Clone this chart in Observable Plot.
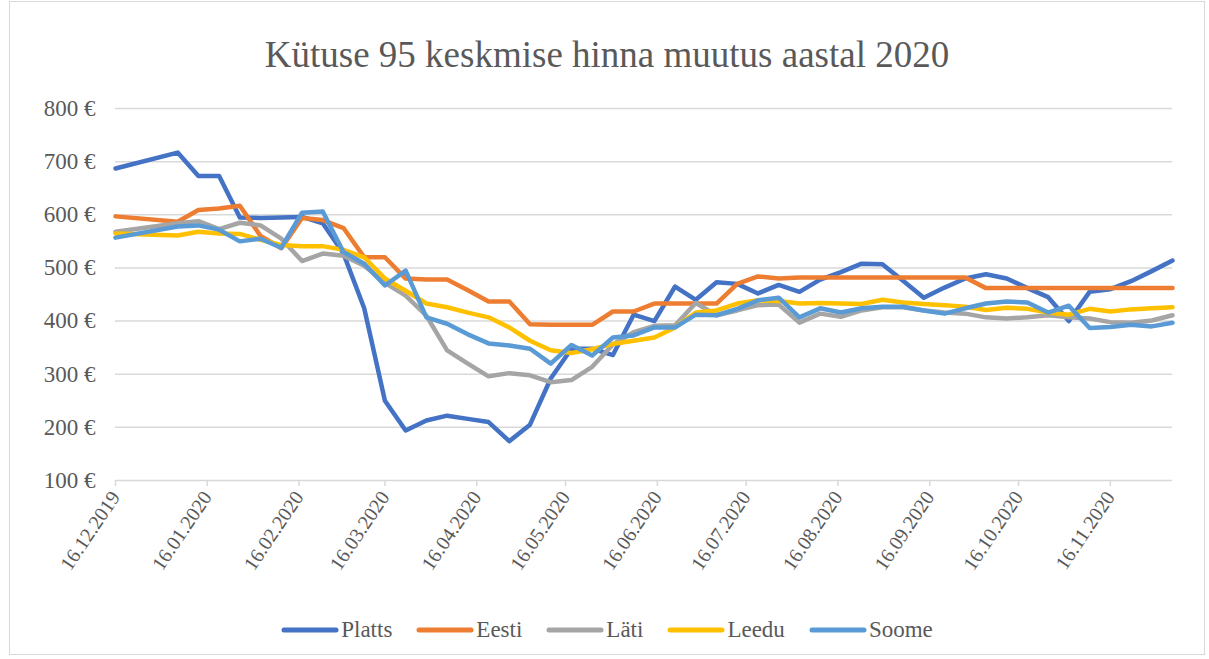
<!DOCTYPE html>
<html>
<head>
<meta charset="utf-8">
<script src="https://cdn.jsdelivr.net/npm/d3@7"></script>
<script src="https://cdn.jsdelivr.net/npm/@observablehq/plot@0.6"></script>
<style>
  body { margin: 0; background: #fff; }
  #wrap { position: relative; width: 1209px; height: 659px; overflow: hidden; font-family: "Liberation Serif", "Times New Roman", Times, "DejaVu Serif", serif; color: #595959; }
  #title { position: absolute; left: 9px; width: 1196px; top: 30px; height: 50px; line-height: 50px; text-align: center; font-size: 37px; }
  #chart { position: absolute; left: 0; top: 90px; }
  #legend { position: absolute; left: 9px; width: 1196px; top: 614px; height: 32px; display: flex; justify-content: center; align-items: center; font-size: 23px; }
  .item { display: flex; align-items: center; margin: 0 12px; }
  .item svg { margin-right: 2px; }
  #frame { position: absolute; left: 9px; top: 1px; width: 1196px; height: 654px; border: 1px solid #d9d9d9; box-sizing: border-box; pointer-events: none; }
  #chart svg text { font-family: "Liberation Serif", "Times New Roman", Times, "DejaVu Serif", serif; }
</style>
</head>
<body>
<div id="wrap">
  <div id="title">Kütuse 95 keskmise hinna muutus aastal 2020</div>
  <div id="chart"></div>
  <div id="legend"></div>
  <div id="frame"></div>
</div>
<script>
const dates = ["16.12.2019","06.01.2020","13.01.2020","20.01.2020","27.01.2020","03.02.2020","10.02.2020","17.02.2020","24.02.2020","02.03.2020","09.03.2020","16.03.2020","23.03.2020","30.03.2020","06.04.2020","13.04.2020","20.04.2020","27.04.2020","04.05.2020","11.05.2020","18.05.2020","25.05.2020","01.06.2020","08.06.2020","15.06.2020","22.06.2020","29.06.2020","06.07.2020","13.07.2020","20.07.2020","27.07.2020","03.08.2020","10.08.2020","17.08.2020","24.08.2020","31.08.2020","07.09.2020","14.09.2020","21.09.2020","28.09.2020","05.10.2020","12.10.2020","19.10.2020","26.10.2020","02.11.2020","09.11.2020","16.11.2020","23.11.2020","30.11.2020","07.12.2020"];

const platts = [687,717,673,673,595,594,595,596,584,527,424,250,194,213,222,216,210,174,205,292,348,348,336,412,400,465,440,473,470,452,468,455,478,492,508,507,476,444,463,480,488,480,462,445,400,455,460,475,494,514];
const eesti  = [597,587,609,612,617,560,537,594,590,575,520,520,480,478,478,458,437,437,394,393,393,393,418,418,433,433,433,433,470,484,480,482,482,482,482,482,482,482,482,482,462,462,462,462,462,462,462,462,462,462];
const lati   = [568,584,588,573,585,580,555,513,527,523,504,472,448,410,345,320,296,302,298,285,289,314,356,379,391,392,434,411,420,430,431,397,414,408,420,426,426,420,416,414,407,405,407,411,407,405,398,397,401,411];
const leedu  = [565,561,568,565,564,553,543,541,541,534,520,480,457,433,426,416,407,388,363,345,340,347,357,363,369,388,416,420,433,439,438,433,434,433,432,440,435,432,430,427,421,425,423,416,412,423,418,422,424,426];
const soome  = [557,578,580,572,550,555,538,604,606,530,508,467,495,407,395,375,358,354,348,320,355,335,369,373,388,388,412,411,423,439,444,407,424,416,424,427,427,420,414,424,433,437,435,416,429,387,389,393,390,397];

const seriesNames = ["Platts","Eesti","Läti","Leedu","Soome"];
const seriesColors = ["#4472C4","#ED7D31","#A5A5A5","#FFC000","#5B9BD5"];
const yTicks = [100,200,300,400,500,600,700,800];
const xTickLabels = ["16.12.2019","16.01.2020","16.02.2020","16.03.2020","16.04.2020","16.05.2020","16.06.2020","16.07.2020","16.08.2020","16.09.2020","16.10.2020","16.11.2020"];

const parse = d3.utcParse("%d.%m.%Y");
const fmt = d3.utcFormat("%d.%m.%Y");
const seriesValues = [platts, eesti, lati, leedu, soome];
const data = [];
seriesNames.forEach((name, s) => {
  dates.forEach((d, i) => data.push({series: name, date: parse(d), value: seriesValues[s][i]}));
});
const xTicks = xTickLabels.map(parse);
const serif = "'Liberation Serif', 'Times New Roman', Times, 'DejaVu Serif', serif";

const chart = Plot.plot({
  width: 1209,
  height: 510,
  marginTop: 18,
  marginBottom: 120,
  marginLeft: 115,
  marginRight: 37,
  style: {fontFamily: serif, fontSize: "23px", color: "#595959", background: "transparent", overflow: "visible"},
  x: {type: "utc", domain: [parse(dates[0]), parse(dates[dates.length - 1])], label: null},
  y: {domain: [100, 800], label: null},
  color: {domain: seriesNames, range: seriesColors},
  marks: [
    Plot.gridY(yTicks.filter(v => v > 100), {stroke: "#d9d9d9", strokeOpacity: 1, strokeWidth: 1.5}),
    Plot.axisY(yTicks, {tickSize: 0, tickPadding: 20, tickFormat: d => d + " €", fill: "#595959", fontSize: 23}),
    Plot.ruleY([100], {stroke: "#d9d9d9", strokeWidth: 1.5}),
    Plot.axisX(xTicks, {tickSize: 6, stroke: "#d9d9d9", strokeWidth: 1.5, tickPadding: 7, tickRotate: -56, tickFormat: fmt, fill: "#595959", fontSize: 20}),
    Plot.lineY(data, {x: "date", y: "value", z: "series", stroke: "series", strokeWidth: 4.5, strokeLinecap: "round", strokeLinejoin: "round"})
  ]
});
document.getElementById("chart").appendChild(chart);

const legend = document.getElementById("legend");
seriesNames.forEach((name, i) => {
  const item = document.createElement("div");
  item.className = "item";
  item.innerHTML = `<svg width="58" height="10"><line x1="3" y1="5" x2="55" y2="5" stroke="${seriesColors[i]}" stroke-width="5" stroke-linecap="round"/></svg><span>${name}</span>`;
  legend.appendChild(item);
});
</script>
</body>
</html>
